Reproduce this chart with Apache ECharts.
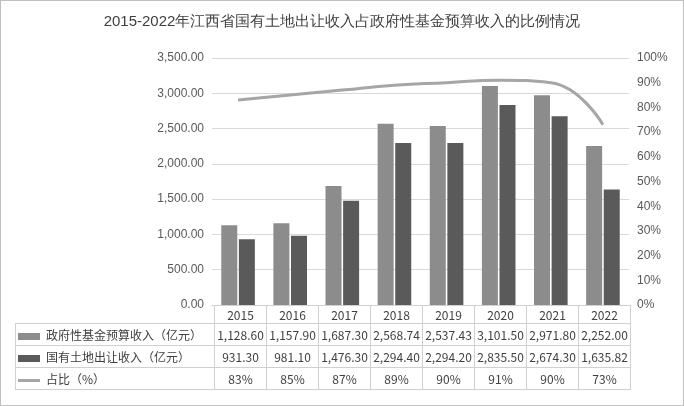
<!DOCTYPE html>
<html>
<head>
<meta charset="UTF-8">
<script src="https://cdn.jsdelivr.net/npm/echarts@6/dist/echarts.min.js"></script>
<style>
body { margin: 0; background: #fff; font-family: "Noto Sans CJK SC", sans-serif; }
#wrap { position: relative; width: 682px; height: 404px; border: 1px solid #bfbfbf; }
#main { position: absolute; left: 0; top: 0; width: 682px; height: 404px; }
#tbl { position: absolute; left: 14px; top: 304px; border-collapse: collapse; font-size: 12px; color: #404040; }
#tbl td { border: 1px solid #d0d0d0; text-align: center; padding: 0; white-space: nowrap; }
#tbl td.lab { text-align: left; width: 196px; padding-left: 2px; }
.sw { display: inline-block; width: 22px; height: 7px; margin-right: 6px; vertical-align: middle; }
</style>
</head>
<body>
<div id="wrap">
<div id="main"></div>
<table id="tbl"></table>
</div>
<script>
var years = ['2015', '2016', '2017', '2018', '2019', '2020', '2021', '2022'];
var govFund = [1128.60, 1157.90, 1687.30, 2568.74, 2537.43, 3101.50, 2971.80, 2252.00];
var landSale = [931.30, 981.10, 1476.30, 2294.40, 2294.20, 2835.50, 2674.30, 1635.82];
var ratio = [83, 85, 87, 89, 90, 91, 90, 73];
var govText = ['1,128.60', '1,157.90', '1,687.30', '2,568.74', '2,537.43', '3,101.50', '2,971.80', '2,252.00'];
var landText = ['931.30', '981.10', '1,476.30', '2,294.40', '2,294.20', '2,835.50', '2,674.30', '1,635.82'];
var names = ['政府性基金预算收入（亿元）', '国有土地出让收入（亿元）', '占比（%）'];
var colors = ['#8c8c8c', '#5a5a5a', '#a6a6a6'];

// 数据表
var html = '<tr style="height:18px"><td style="border:none;border-right:1px solid #d0d0d0"></td>';
years.forEach(function (y) { html += '<td style="width:51px">' + y + '</td>'; });
html += '</tr>';
var rows = [govText, landText, ratio.map(function (v) { return v + '%'; })];
rows.forEach(function (r, i) {
	var sw = i < 2 ? '<span class="sw" style="background:' + colors[i] + '"></span>'
		: '<span class="sw" style="height:3px;background:' + colors[i] + '"></span>';
	html += '<tr style="height:22px"><td class="lab">' + sw + names[i] + '</td>';
	r.forEach(function (v) { html += '<td>' + v + '</td>'; });
	html += '</tr>';
});
document.getElementById('tbl').innerHTML = html;

var myChart = echarts.init(document.getElementById('main'));
var option = {
	title: {
		text: '2015-2022年江西省国有土地出让收入占政府性基金预算收入的比例情况',
		left: 'center', top: 8,
		textStyle: { fontSize: 15, fontWeight: 'normal', color: '#404040' }
	},
	grid: { left: 211, right: 54, top: 57, bottom: 100 },
	xAxis: {
		type: 'category', data: years,
		axisLabel: { show: false }, axisTick: { show: false },
		axisLine: { lineStyle: { color: '#d0d0d0' } }
	},
	yAxis: [{
		type: 'value', min: 0, max: 3500, interval: 500,
		axisLabel: { color: '#595959', fontSize: 12, formatter: function (v) { return echarts.format.addCommas(v.toFixed(2)); } },
		splitLine: { lineStyle: { color: '#d9d9d9' } }
	}, {
		type: 'value', min: 0, max: 100, interval: 10,
		axisLabel: { color: '#595959', fontSize: 12, formatter: '{value}%' },
		splitLine: { show: false }
	}],
	series: [{
		name: names[0], type: 'bar', data: govFund, barWidth: 16, barGap: '10%',
		itemStyle: { color: colors[0] }
	}, {
		name: names[1], type: 'bar', data: landSale, barWidth: 16,
		itemStyle: { color: colors[1] }
	}, {
		name: names[2], type: 'line', yAxisIndex: 1, data: ratio, smooth: true,
		symbol: 'none', lineStyle: { color: colors[2], width: 3 }
	}]
};
myChart.setOption(option);
</script>
</body>
</html>
